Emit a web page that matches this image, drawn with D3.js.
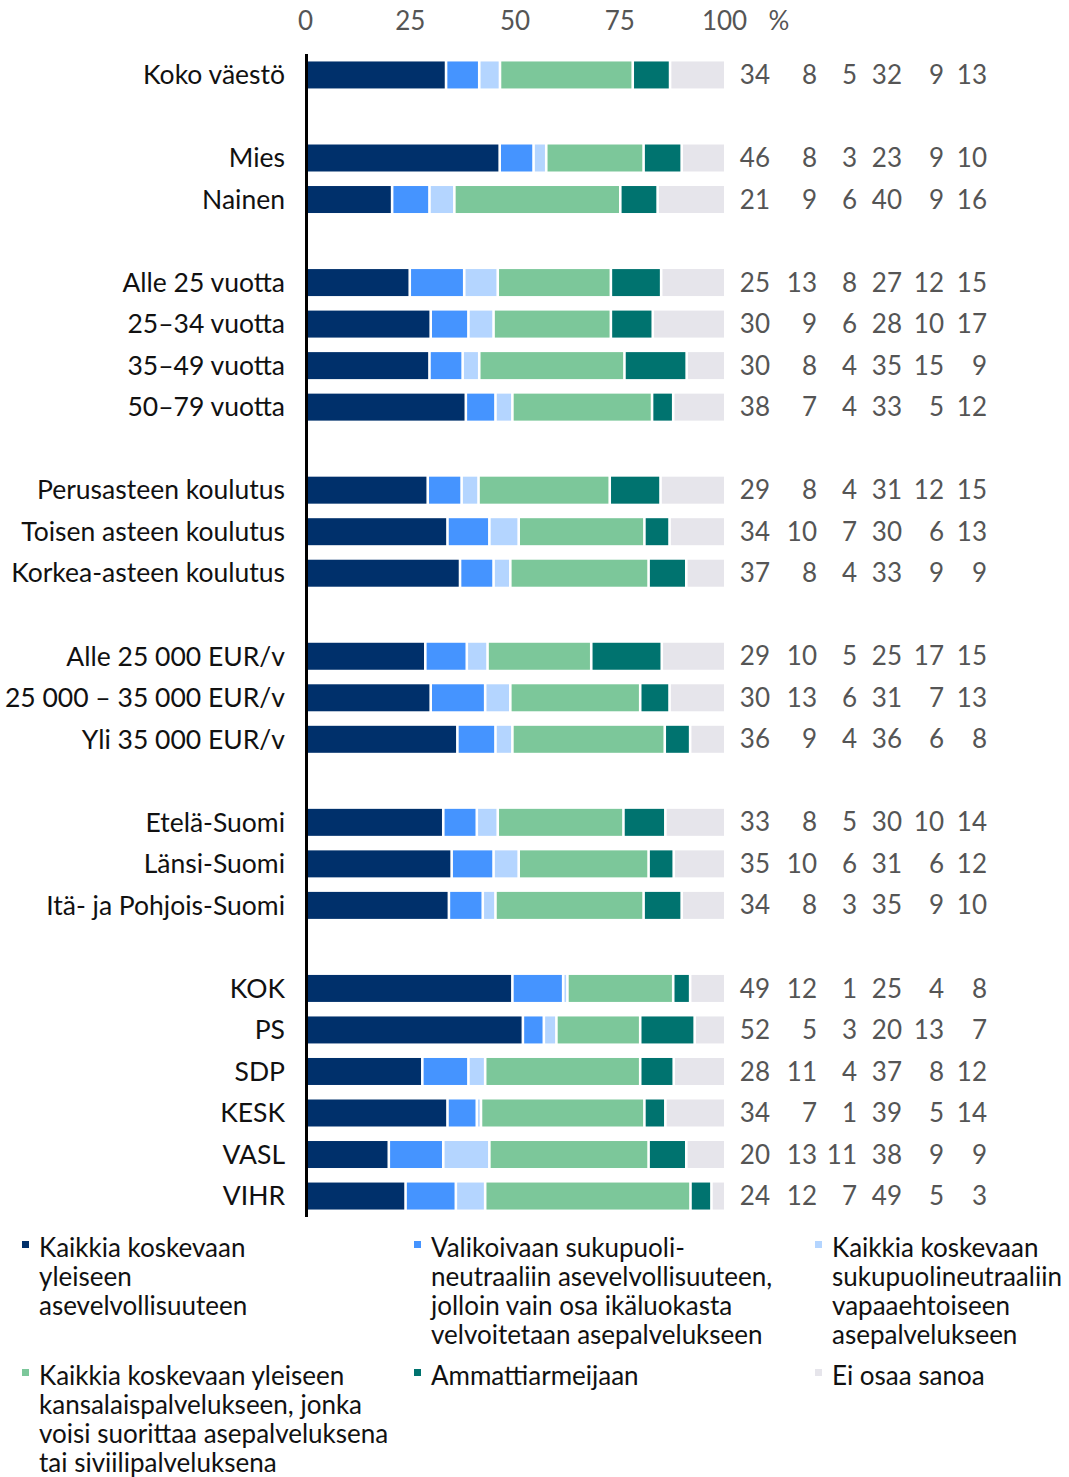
<!DOCTYPE html>
<html>
<head>
<meta charset="utf-8">
<script src="https://cdn.jsdelivr.net/npm/d3@7"></script>
<style>
  body { margin: 0; background: #fff; }
  text { font-family: Lato, "Open Sans", sans-serif; }
</style>
</head>
<body>
<div id="chart"></div>
<script>
// data
var categories = [
  "Koko väestö", "",
  "Mies", "Nainen", "",
  "Alle 25 vuotta", "25–34 vuotta", "35–49 vuotta", "50–79 vuotta", "",
  "Perusasteen koulutus", "Toisen asteen koulutus", "Korkea-asteen koulutus", "",
  "Alle 25 000 EUR/v", "25 000 – 35 000 EUR/v", "Yli 35 000 EUR/v", "",
  "Etelä-Suomi", "Länsi-Suomi", "Itä- ja Pohjois-Suomi", "",
  "KOK", "PS", "SDP", "KESK", "VASL", "VIHR"
];

var yleinenAsevelvollisuus = [34, null, 46, 21, null, 25, 30, 30, 38, null, 29, 34, 37, null, 29, 30, 36, null, 33, 35, 34, null, 49, 52, 28, 34, 20, 24];
var valikoiva             = [ 8, null,  8,  9, null, 13,  9,  8,  7, null,  8, 10,  8, null, 10, 13,  9, null,  8, 10,  8, null, 12,  5, 11,  7, 13, 12];
var vapaaehtoinen         = [ 5, null,  3,  6, null,  8,  6,  4,  4, null,  4,  7,  4, null,  5,  6,  4, null,  5,  6,  3, null,  1,  3,  4,  1, 11,  7];
var kansalaispalvelus     = [32, null, 23, 40, null, 27, 28, 35, 33, null, 31, 30, 33, null, 25, 31, 36, null, 30, 31, 35, null, 25, 20, 37, 39, 38, 49];
var ammattiarmeija        = [ 9, null,  9,  9, null, 12, 10, 15,  5, null, 12,  6,  9, null, 17,  7,  6, null, 10,  6,  9, null,  4, 13,  8,  5,  9,  5];
var eiOsaa                = [13, null, 10, 16, null, 15, 17,  9, 12, null, 15, 13,  9, null, 15, 13,  8, null, 14, 12, 10, null,  8,  7, 12, 14,  9,  3];

var tickValues = [0, 25, 50, 75, 100];

var seriesNames = [
  "Kaikkia koskevaan\nyleiseen\nasevelvollisuuteen",
  "Valikoivaan sukupuoli-\nneutraaliin asevelvollisuuteen,\njolloin vain osa ikäluokasta\nvelvoitetaan asepalvelukseen",
  "Kaikkia koskevaan\nsukupuolineutraaliin\nvapaaehtoiseen\nasepalvelukseen",
  "Kaikkia koskevaan yleiseen\nkansalaispalvelukseen, jonka\nvoisi suorittaa asepalveluksena\ntai siviilipalveluksena",
  "Ammattiarmeijaan",
  "Ei osaa sanoa"
];
var colors = ["#00306b", "#4594ff", "#b4d5ff", "#7cc79a", "#00736f", "#e6e5eb"];

var seriesValues = [yleinenAsevelvollisuus, valikoiva, vapaaehtoinen, kansalaispalvelus, ammattiarmeija, eiOsaa];

// svg container
var svgWidth = 1069;
var svgHeight = 1477;

var svg = d3.select("#chart")
            .append("svg")
            .attr("width", svgWidth)
            .attr("height", svgHeight);

// table for stacking
var keys = d3.range(seriesValues.length);
var rows = categories.map(function(c, i) {
    var r = { name: c, blank: c === "" };
    keys.forEach(function(k) { r[k] = seriesValues[k][i] || 0; });
    return r;
});

var xScale = d3.scaleLinear()
               .domain([0, 1])
               .range([305, 724]);

var tickScale = d3.scaleLinear()
                  .domain([0, 100])
                  .range([305, 724]);

var yScale = d3.scaleBand()
               .domain(d3.range(categories.length))
               .range([54.2, 1216.8])
               .paddingInner(0.35)
               .paddingOuter(0.175);

var stack = d3.stack().keys(keys).offset(d3.stackOffsetExpand);
var stacked = stack(rows.filter(function(r) { return !r.blank; }));

// remember row index
var rowIndex = new Map();
rows.forEach(function(r, i) { rowIndex.set(r, i); });

// bars, small white gap between segments
var gap = 1.3;
svg.append("g")
   .selectAll("g")
   .data(stacked)
   .join("g")
   .attr("fill", function(d) { return colors[d.key]; })
   .selectAll("rect")
   .data(function(d) { return d; })
   .join("rect")
   .attr("x", function(d) { return xScale(d[0]) + (d[0] === 0 ? 0 : gap); })
   .attr("width", function(d) {
       var left = d[0] === 0 ? 0 : gap;
       var right = d[1] >= 0.9999 ? 0 : gap;
       return Math.max(0, xScale(d[1]) - xScale(d[0]) - left - right);
   })
   .attr("y", function(d) { return yScale(rowIndex.get(d.data)); })
   .attr("height", yScale.bandwidth());

// top axis
var xAxis = d3.axisTop(tickScale)
              .tickValues(tickValues)
              .tickSize(0)
              .tickPadding(0);

var axisG = svg.append("g")
               .attr("transform", "translate(0, 30)")
               .call(xAxis);
axisG.select(".domain").remove();
axisG.selectAll("text")
     .attr("font-family", "Lato, sans-serif")
     .attr("font-size", 26)
     .attr("fill", "#555")
     .attr("dy", 0);

svg.append("text")
   .attr("x", 779)
   .attr("y", 30)
   .attr("text-anchor", "middle")
   .attr("font-size", 26)
   .attr("fill", "#555")
   .text("%");

// category labels
var yAxis = d3.axisLeft(yScale)
              .tickSize(0)
              .tickPadding(0)
              .tickFormat(function(i) { return categories[i]; });

var yG = svg.append("g")
            .attr("transform", "translate(285, 0)")
            .call(yAxis);
yG.select(".domain").remove();
yG.selectAll("text")
  .attr("font-family", "Lato, sans-serif")
  .attr("font-size", 26.5)
  .attr("fill", "#111")
  .attr("dy", "0.35em");

// vertical axis line
svg.append("line")
   .attr("x1", 306.5).attr("x2", 306.5)
   .attr("y1", 54).attr("y2", 1217)
   .attr("stroke", "#000")
   .attr("stroke-width", 3);

// value columns
var colX = [770, 817, 857, 902, 944, 987];
rows.forEach(function(r, i) {
    if (r.blank) return;
    keys.forEach(function(k) {
        svg.append("text")
           .attr("x", colX[k])
           .attr("y", yScale(i) + yScale.bandwidth() / 2)
           .attr("dy", "0.35em")
           .attr("text-anchor", "end")
           .attr("font-size", 26)
           .attr("fill", "#555")
           .text(seriesValues[k][i]);
    });
});

// legend
var legendX = [22, 414, 815];
var legendY = [1241, 1369];
var lineH = 29;
seriesNames.forEach(function(name, k) {
    var col = k % 3, row = Math.floor(k / 3);
    var g = svg.append("g");
    g.append("rect")
     .attr("x", legendX[col])
     .attr("y", legendY[row])
     .attr("width", 7)
     .attr("height", 7)
     .attr("fill", colors[k]);
    var t = g.append("text")
             .attr("font-size", 26)
             .attr("fill", "#111");
    name.split("\n").forEach(function(line, j) {
        t.append("tspan")
         .attr("x", legendX[col] + 17)
         .attr("y", legendY[row] + 16 + j * lineH)
         .text(line);
    });
});
</script>
</body>
</html>
